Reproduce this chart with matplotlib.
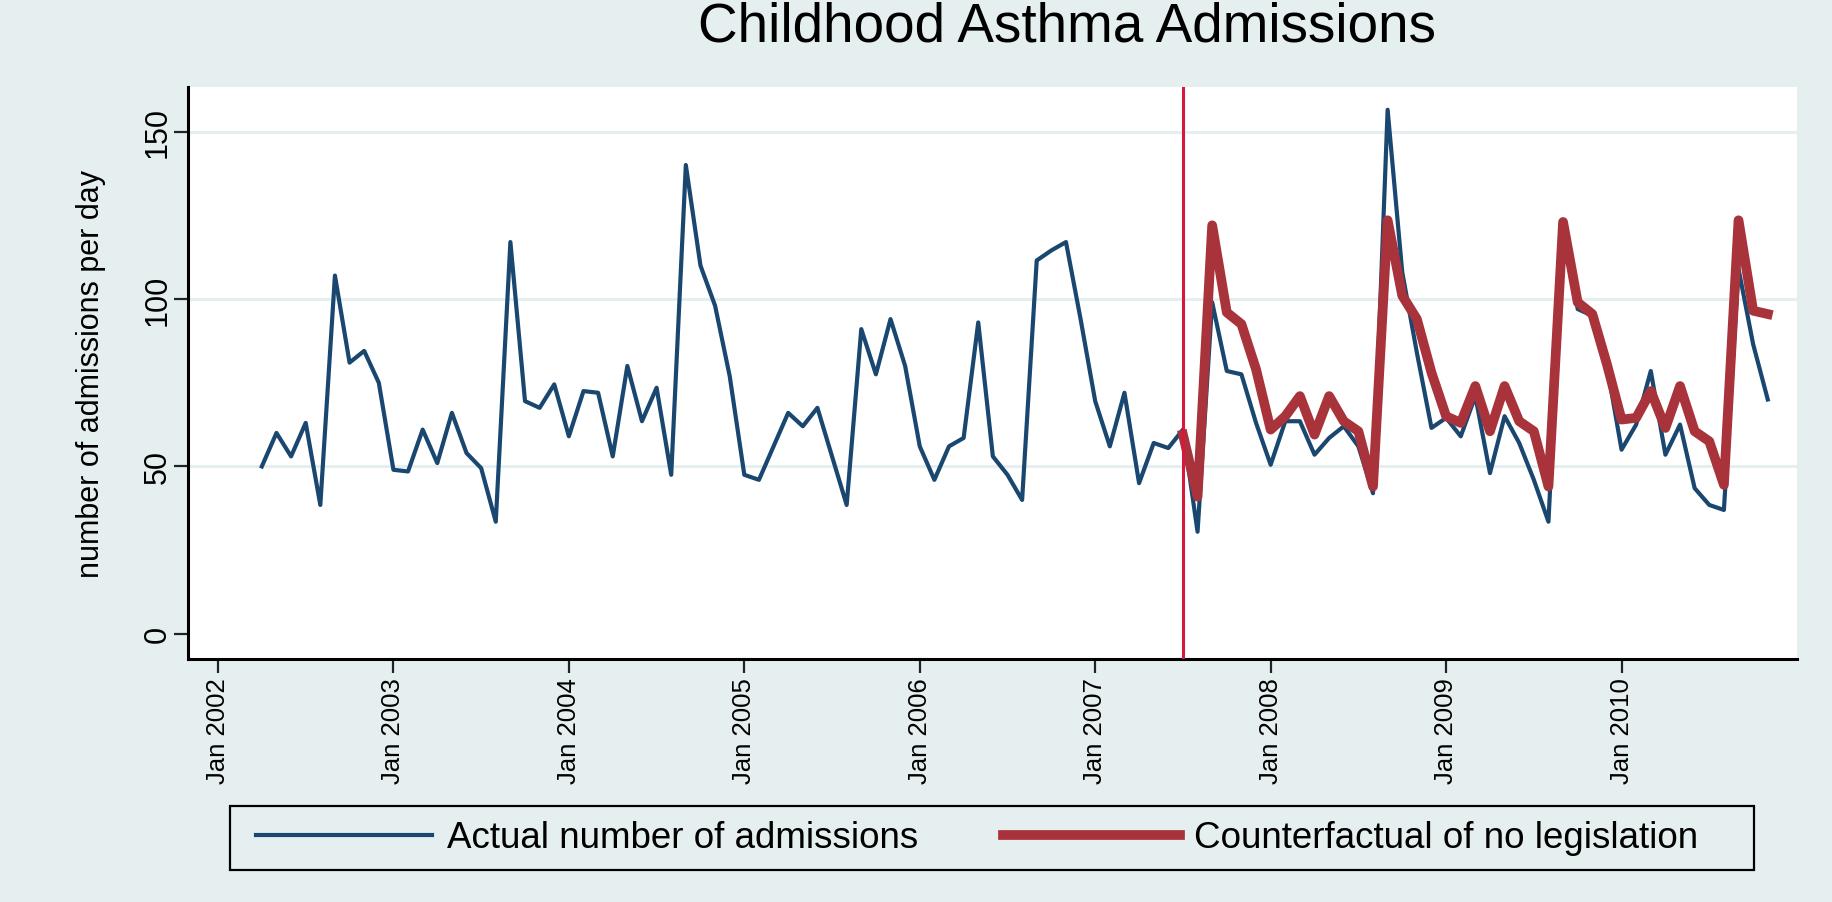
import numpy as np
import pandas as pd
import matplotlib.pyplot as plt
from matplotlib.patches import Rectangle

# monthly series, Apr 2002 - Nov 2010
actual = [50, 60, 53, 63, 38.5, 107, 81, 84.5, 75,
          49, 48.5, 61, 51, 66, 54, 49.5, 33.5, 117, 69.5, 67.5, 74.5,
          59, 72.5, 72, 53, 80, 63.5, 73.5, 47.5, 140, 110, 98, 77,
          47.5, 46, 56, 66, 62, 67.5, 53, 38.5, 91, 77.5, 94, 80,
          56, 46, 56, 58.5, 93, 53, 47.5, 40, 111.5, 114.5, 117, 94,
          69.5, 56, 72, 45, 57, 55.5, 61, 30.5, 99, 78.5, 77.5, 63,
          50.5, 63.5, 63.5, 53.5, 58.5, 62, 56, 42, 156.5, 108, 84, 61.5,
          64.5, 59, 71, 48, 65, 57, 46, 33.5, 121, 97, 95, 80,
          55, 62.5, 78.5, 53.5, 62.5, 43.5, 38.5, 37, 109, 86.5, 70]

# counterfactual, Jul 2007 - Nov 2010
counterfactual = [59.5, 41, 122, 96, 92.5, 79,
                  61, 65, 71, 59.5, 71, 63.5, 60.5, 44, 123.5, 101, 94, 78,
                  65, 63, 74, 60.5, 74, 63.5, 60.5, 44, 123, 99, 95.5, 80.5,
                  64, 64.5, 72.5, 61.5, 74, 60.5, 57.5, 44.5, 123.5, 96.5, 95.5]

actual_months = pd.period_range('2002-04', '2010-11', freq='M')
cf_months = pd.period_range('2007-07', '2010-11', freq='M')
legislation = pd.Period('2007-07', freq='M')

year_ticks = list(range(2002, 2011))
ytick_vals = [0, 50, 100, 150]


def month_index(p):
    # months since Jan 2002
    return (p.year - 2002) * 12 + p.month - 1


bg = '#e6eff0'
navy = '#1a476f'
maroon = '#a8333b'

plt.rcParams['font.family'] = ['Liberation Sans', 'DejaVu Sans']

W, H = 1833, 903
fig = plt.figure(figsize=(W / 100, H / 100), dpi=100, facecolor=bg)
ax = fig.add_axes([188 / W, 1 - 660 / H, (1797 - 188) / W, (660 - 88) / H])
ax.set_facecolor('white')

for v in ytick_vals[1:]:
    ax.axhline(v, color=bg, lw=2.2, zorder=0)

ax.plot(month_index(actual_months), actual, color=navy, lw=3.0, zorder=3,
        label='Actual number of admissions')
ax.plot(month_index(cf_months), counterfactual, color=maroon, lw=7.0, zorder=4,
        solid_joinstyle='round', label='Counterfactual of no legislation')
ax.axvline(month_index(legislation), color='#d8173c', lw=2.2, zorder=5)

ax.set_xlim(-2.05, 108)
ax.set_ylim(-7.5, 163.3)

ax.set_xticks([(y - 2002) * 12 for y in year_ticks])
ax.set_xticklabels(['Jan %d' % y for y in year_ticks], rotation=90, fontsize=18.5)
ax.set_yticks(ytick_vals)
ax.set_yticklabels([str(v) for v in ytick_vals], rotation=90, va='center', fontsize=22)
ax.tick_params(axis='both', length=10, width=1.6, color='#222222', pad=3)
ax.tick_params(axis='y', pad=1)

for s in ['top', 'right']:
    ax.spines[s].set_visible(False)
for s in ['left', 'bottom']:
    ax.spines[s].set_linewidth(2.2)
    ax.spines[s].set_color('black')

ax.set_ylabel('number of admissions per day', fontsize=22)
ax.yaxis.set_label_coords(-0.051, 0.5)

fig.text(1067 / W, 1 - 27 / H, 'Childhood Asthma Admissions', fontsize=39.5,
         ha='center', va='center')

# legend box
fig.patches.append(Rectangle((230 / W, 1 - 871 / H), (1754 - 230) / W, 64 / H,
                             transform=fig.transFigure, facecolor=bg,
                             edgecolor='black', lw=1.6, zorder=1))
leg = fig.legend(loc='center', bbox_to_anchor=(977 / W, 1 - 839 / H), ncol=2,
                 fontsize=26.5, handlelength=4.8, handletextpad=0.4, columnspacing=2.3,
                 borderpad=0.1, frameon=False)

plt.savefig('out.png', dpi=100, facecolor=bg)
